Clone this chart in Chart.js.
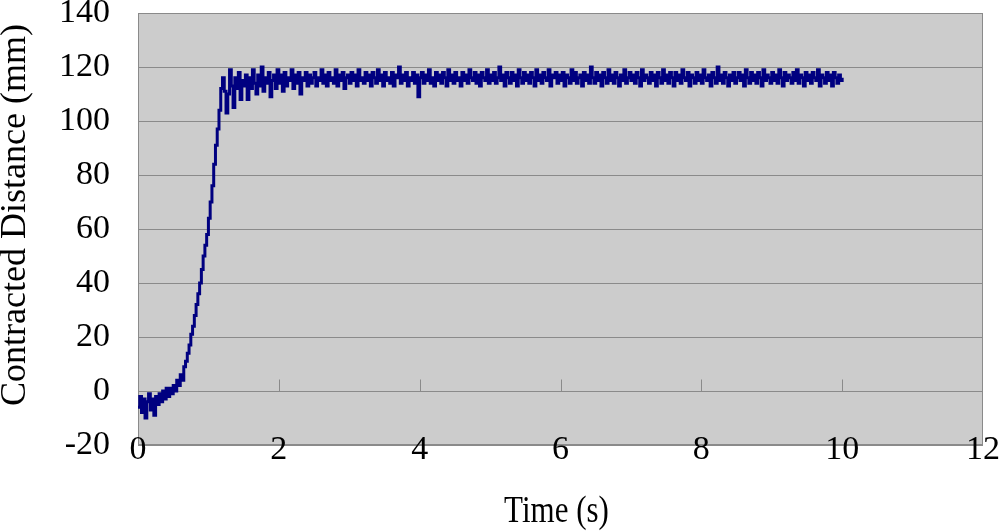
<!DOCTYPE html>
<html>
<head>
<meta http-equiv="Content-Type" content="text/html;charset=utf-8" />
<script src="https://cdn.jsdelivr.net/npm/chart.js@4"></script>
<style>
  body { margin: 0; background: #fff; }
</style>
</head>
<body>
<canvas id="Contract" width="1000" height="531"></canvas>

<script type="text/javascript">
    // one reading every 25 ms, starting at t = 0
    var sampleStep = 0.025;

    // contracted distance (mm)
    var distance = [
        -6,-2,-8,-3,-10,-4,-1,-7,-3,-9, -2,-5,-1,-4,0,-3,1,-2,1,-1,
        2,0,4,2,6,4,9,11,14,17, 21,24,28,32,36,40,45,50,54,58,
        64,70,76,84,91,97,104,112,116,111, 103,110,119,113,105,116,112,118,108,115,
        113,117,108,116,112,119,114,110,117,113, 120,111,116,114,118,109,115,117,112,119,
        114,117,111,118,113,116,115,119,112,117, 114,118,110,116,115,118,113,117,114,116,
        118,113,116,115,119,114,117,113,118,115, 116,114,119,113,117,115,118,112,116,117,
        114,118,115,117,113,119,115,116,114,118, 115,117,113,118,116,114,119,115,117,113,
        118,115,116,114,118,113,117,116,120,114, 117,115,118,113,116,115,118,114,117,109,
        116,118,114,117,115,119,114,116,113,118, 115,117,114,118,116,113,119,115,117,114,
        118,115,116,113,118,115,117,114,119,116, 115,118,114,117,113,118,116,115,119,114,
        117,115,118,114,116,120,115,117,113,118, 116,114,118,115,117,113,119,116,114,118,
        115,117,114,118,116,113,119,115,117,114, 118,116,115,119,113,117,116,118,114,117,
        115,118,113,117,116,114,119,115,118,114, 116,117,113,118,115,117,114,120,116,114,
        118,115,117,113,118,116,114,119,115,117, 114,118,116,113,117,115,119,114,116,118,
        115,117,114,118,116,113,119,115,117,116, 114,118,115,117,113,118,116,114,119,115,
        117,114,118,116,113,118,115,117,114,119, 116,115,118,113,117,116,114,118,115,117,
        114,119,116,115,117,113,118,116,114,120, 115,117,114,118,116,113,117,115,118,114,
        116,118,115,117,113,119,116,114,118,115, 117,114,118,116,113,119,115,117,116,114,
        118,115,117,114,119,116,113,118,115,117, 116,114,118,115,119,114,117,116,113,118,
        115,117,114,118,116,115,119,113,117,116, 114,118,115,117,113,118,116,114,117,115,
        116
    ];

    var xTitle = 'Time (s)';
    var yTitle = 'Contracted Distance (mm)';
    var xMin = 0, xMax = 12, xStep = 2;
    var yMin = -20, yMax = 140, yStep = 20;

    var points = distance.map(function (d, i) {
        return { x: i * sampleStep, y: d };
    });

    var serif = '"Liberation Serif", "Times New Roman", serif';

    // grey plot area, border, little ticks on the zero line, x labels and the axis titles
    var excelLook = {
        id: 'excelLook',
        beforeDraw: function (chart) {
            var a = chart.chartArea, ctx = chart.ctx;
            ctx.save();
            ctx.fillStyle = '#cccccc';
            ctx.fillRect(a.left, a.top, a.right - a.left, a.bottom - a.top);
            ctx.restore();
        },
        beforeDatasetsDraw: function (chart) {
            var a = chart.chartArea, ctx = chart.ctx;
            var xs = chart.scales.x, ys = chart.scales.y;
            var y0 = Math.round(ys.getPixelForValue(0)) + 0.5;
            ctx.save();
            ctx.strokeStyle = '#8a8a8a';
            ctx.lineWidth = 1;
            ctx.strokeRect(a.left + 0.5, a.top + 0.5, a.right - a.left - 1, a.bottom - a.top - 1);
            ctx.beginPath();
            for (var v = xMin + xStep; v < xMax; v += xStep) {
                var px = Math.round(xs.getPixelForValue(v)) + 0.5;
                ctx.moveTo(px, y0);
                ctx.lineTo(px, y0 - 12);
            }
            ctx.stroke();
            ctx.restore();
        },
        afterDraw: function (chart) {
            var a = chart.chartArea, ctx = chart.ctx;
            var xs = chart.scales.x;
            ctx.save();
            ctx.fillStyle = '#000';
            ctx.textAlign = 'center';
            ctx.textBaseline = 'alphabetic';

            // x tick labels sit across the bottom edge of the plot, as in Excel
            ctx.font = '34px ' + serif;
            xs.ticks.forEach(function (t) {
                ctx.fillText(t.label, xs.getPixelForValue(t.value), a.bottom + 14);
            });

            // x title is a bit taller than wide in the original
            ctx.save();
            ctx.font = '31px ' + serif;
            ctx.translate((a.left + a.right) / 2 - 4, 522);
            ctx.scale(1, 1.22);
            ctx.fillText(xTitle, 0, 0);
            ctx.restore();

            ctx.font = '36px ' + serif;
            ctx.translate(25, 215);
            ctx.rotate(-Math.PI / 2);
            ctx.fillText(yTitle, 0, 0);
            ctx.restore();
        }
    };

    var ctx = document.getElementById('Contract').getContext('2d');
    var chart = new Chart(ctx, {
        type: 'line',
        data: {
            datasets: [{
                label: 'Contracted distance',
                data: points,
                borderColor: '#000080',
                borderWidth: 3,
                pointRadius: 0,
                fill: false,
                stepped: true
            }]
        },
        options: {
            responsive: false,
            animation: false,
            layout: { padding: { top: 13, right: 17, left: 0, bottom: 0 } },
            plugins: {
                legend: { display: false },
                tooltip: { enabled: false }
            },
            scales: {
                x: {
                    type: 'linear',
                    min: xMin,
                    max: xMax,
                    grid: { display: false },
                    border: { display: false },
                    ticks: {
                        stepSize: xStep,
                        display: false
                    },
                    afterFit: function (s) { s.height = 86; s.paddingLeft = 0; s.paddingRight = 0; }
                },
                y: {
                    min: yMin,
                    max: yMax,
                    grid: { color: '#8a8a8a', drawTicks: false },
                    border: { display: true, color: '#8a8a8a' },
                    ticks: {
                        stepSize: yStep,
                        color: '#000',
                        padding: 28,
                        font: { family: serif, size: 34 }
                    },
                    afterFit: function (s) { s.width = 138; s.paddingTop = 0; s.paddingBottom = 0; }
                }
            }
        },
        plugins: [excelLook]
    });
</script>
</body>
</html>
